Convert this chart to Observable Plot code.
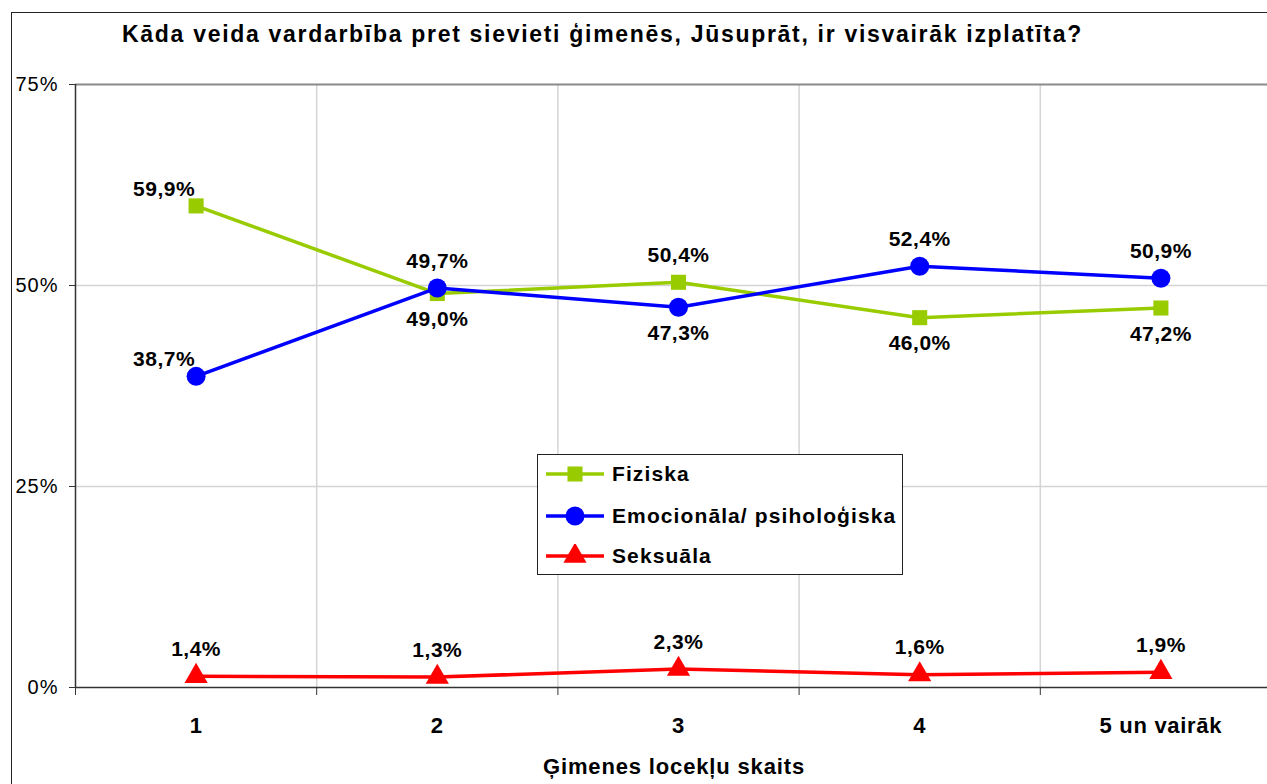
<!DOCTYPE html>
<html><head><meta charset="utf-8">
<script src="https://cdn.jsdelivr.net/npm/d3@7"></script>
<script src="https://cdn.jsdelivr.net/npm/@observablehq/plot@0.6"></script>
<style>
body{margin:0;background:#fff;font-family:"Liberation Sans",Arial,sans-serif;}
#wrap{position:relative;width:1267px;height:784px;overflow:hidden;background:#fff;}
#chart{position:absolute;left:0;top:0;}
#frame{position:absolute;left:11px;top:12px;width:1300px;height:820px;border:1.5px solid #222;box-sizing:border-box;pointer-events:none;}
#title{position:absolute;left:0;width:1205px;text-align:center;top:21px;font-weight:bold;font-size:23px;letter-spacing:1.7px;line-height:26px;color:#000;white-space:nowrap;}
#xtitle{position:absolute;left:0;width:1348px;text-align:center;top:755px;font-weight:bold;font-size:22px;letter-spacing:0.85px;line-height:24px;color:#000;white-space:nowrap;}
#legend{position:absolute;left:537px;top:454px;width:366px;height:121px;border:1.5px solid #222;background:#fff;box-sizing:border-box;}
.li{position:absolute;left:8px;height:30px;display:flex;align-items:center;font-weight:bold;font-size:21px;letter-spacing:1.1px;color:#000;white-space:nowrap;}
.li svg{margin-right:6px;}
g[aria-label="y-axis tick label"] text{letter-spacing:1px;}
g[aria-label="x-axis tick label"] text{letter-spacing:0.7px;}
g[aria-label="text"] text{letter-spacing:0.5px;}
</style>
</head><body>
<div id="wrap">
  <div id="chart"></div>
  <div id="title"></div>
  <div id="xtitle"></div>
  <div id="legend"></div>
  <div id="frame"></div>
</div>
<script>
const titleText = "Kāda veida vardarbība pret sievieti ģimenēs, Jūsuprāt, ir visvairāk izplatīta?";
const xTitle = "Ģimenes locekļu skaits";
const categories = ["1", "2", "3", "4", "5 un vairāk"];
const seriesNames = ["Fiziska", "Emocionāla/ psiholoģiska", "Seksuāla"];
const fiziska = [59.9, 49.0, 50.4, 46.0, 47.2];
const emocionala = [38.7, 49.7, 47.3, 52.4, 50.9];
const seksuala = [1.4, 1.3, 2.3, 1.6, 1.9];
const yTicks = [0, 25, 50, 75];
const colors = ["#99CC00", "#0000FF", "#FF0000"];
const symbols = ["square", "circle", "triangle"];

document.getElementById("title").textContent = titleText;
document.getElementById("xtitle").textContent = xTitle;

const seriesValues = [fiziska, emocionala, seksuala];
const rows = [];
seriesValues.forEach((vals, s) => vals.forEach((v, i) => {
  let place;
  if (s === 2) place = "above";
  else if (i === 0) place = "aboveLeft";
  else {
    const other = seriesValues[1 - s][i];
    place = v >= other ? "above" : "below";
  }
  rows.push({series: seriesNames[s], s, i: i + 1, value: v, place,
    label: v.toFixed(1).replace(".", ",") + "%"});
}));

const boundaries = d3.range(categories.length + 1).map(i => i + 0.5);
const inner = boundaries.slice(1, -1);
const n = categories.length;

const fmt = d => categories[d - 1];
const font = "Liberation Sans, Arial, sans-serif";

const marks = [
  Plot.ruleY([25, 50], {stroke: "#d4d4d4", strokeWidth: 1.5}),
  Plot.ruleX(inner, {y1: 0, y2: 75, stroke: "#d4d4d4", strokeWidth: 1.5}),
  Plot.ruleY([75], {stroke: "#8a8a8a", strokeWidth: 2}),
  Plot.ruleX([0.5], {y1: 0, y2: 75, stroke: "#333", strokeWidth: 1.5}),
  Plot.ruleY([0], {stroke: "#333", strokeWidth: 1.5}),
  Plot.axisY({ticks: yTicks, tickFormat: d => d + "%", tickSize: 6, tickPadding: 11, fontSize: 20, label: null, stroke: "#333", fill: "#000"}),
  Plot.axisX({ticks: boundaries, tickFormat: () => "", tickSize: 8, label: null, stroke: "#333"}),
  Plot.axisX({ticks: d3.range(1, n + 1), tickFormat: fmt, tickSize: 0, tickPadding: 30, fontSize: 22, fontWeight: "bold", label: null, fill: "#000"}),
];
seriesNames.forEach((name, s) => {
  marks.push(Plot.line(rows.filter(r => r.s === s), {x: "i", y: "value", stroke: colors[s], strokeWidth: 3.5}));
});
const sizes = [8.5, 9.5, 8.6];
seriesNames.forEach((name, s) => {
  marks.push(Plot.dot(rows.filter(r => r.s === s), {x: "i", y: "value", fill: colors[s], symbol: symbols[s], r: sizes[s], stroke: "none"}));
});
marks.push(
  Plot.text(rows.filter(r => r.place === "above"), {x: "i", y: "value", text: "label", dy: -27, fontSize: 21, fontWeight: "bold", fill: "#000"}),
  Plot.text(rows.filter(r => r.place === "below"), {x: "i", y: "value", text: "label", dy: 26, fontSize: 21, fontWeight: "bold", fill: "#000"}),
  Plot.text(rows.filter(r => r.place === "aboveLeft"), {x: "i", y: "value", text: "label", dx: -32, dy: -17, fontSize: 21, fontWeight: "bold", fill: "#000"})
);

const chart = Plot.plot({
  width: 1267,
  height: 784,
  marginLeft: 75, marginTop: 84, marginBottom: 97, marginRight: 0,
  style: {fontFamily: font, background: "transparent", overflow: "visible"},
  x: {type: "linear", domain: [0.5, n + 0.5], range: [75, 1281]},
  y: {type: "linear", domain: [0, 75], range: [687, 84]},
  marks
});
document.getElementById("chart").appendChild(chart);

// legend
const legend = document.getElementById("legend");
const tops = [4, 46, 86];
seriesNames.forEach((name, s) => {
  const div = document.createElement("div");
  div.className = "li";
  div.style.top = tops[s] + "px";
  const svg = d3.create("svg").attr("width", 60).attr("height", 24);
  svg.append("line").attr("x1", 0).attr("x2", 58).attr("y1", 12).attr("y2", 12).attr("stroke", colors[s]).attr("stroke-width", 3.5);
  const symType = [d3.symbolSquare, d3.symbolCircle, d3.symbolTriangle][s];
  svg.append("path").attr("transform", "translate(29,12)")
    .attr("d", d3.symbol(symType, Math.PI * sizes[s] * sizes[s])()).attr("fill", colors[s]);
  div.appendChild(svg.node());
  const span = document.createElement("span");
  span.textContent = name;
  div.appendChild(span);
  legend.appendChild(div);
});
</script>
</body></html>
